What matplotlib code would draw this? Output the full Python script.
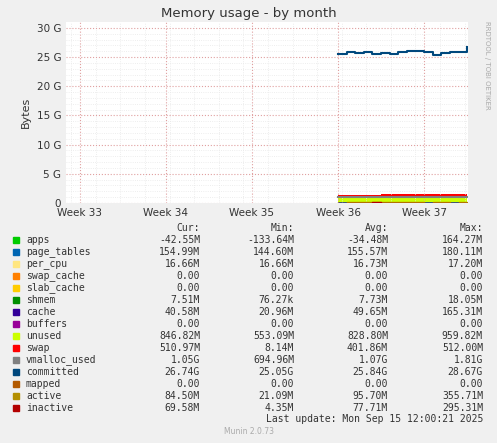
import numpy as np
import matplotlib.pyplot as plt

# time in weeks since Week 33
t = [3.0, 3.1, 3.2, 3.3, 3.4, 3.5, 3.6, 3.7, 3.8, 3.9, 4.0, 4.1, 4.2, 4.3, 4.4, 4.5]

# stacked areas (GB)
apps = [0.00, -0.03, -0.05, -0.02, -0.04, -0.03, -0.06, -0.04, -0.02, -0.05, -0.03, -0.04, -0.03, -0.05, -0.04, -0.04]
page_tables = [0.15, 0.16, 0.15, 0.16, 0.15, 0.16, 0.16, 0.15, 0.16, 0.16, 0.15, 0.16, 0.15, 0.16, 0.15, 0.15]
per_cpu = [0.017] * 16
shmem = [0.008] * 16
cache = [0.05, 0.06, 0.04, 0.05, 0.05, 0.06, 0.05, 0.04, 0.05, 0.05, 0.04, 0.05, 0.05, 0.04, 0.05, 0.04]
unused = [0.80, 0.82, 0.85, 0.80, 0.78, 0.83, 0.86, 0.84, 0.82, 0.85, 0.83, 0.84, 0.82, 0.83, 0.85, 0.85]
swap = [0.30, 0.32, 0.35, 0.38, 0.40, 0.42, 0.45, 0.46, 0.48, 0.49, 0.50, 0.50, 0.51, 0.51, 0.51, 0.51]
# lines (GB)
vmalloc_used = [1.05, 1.06, 1.07, 1.08, 1.07, 1.06, 1.08, 1.07, 1.06, 1.07, 1.08, 1.07, 1.06, 1.07, 1.06, 1.05]
committed = [25.6, 25.8, 25.7, 25.9, 25.6, 25.7, 25.5, 25.9, 26.1, 26.0, 25.8, 25.3, 25.7, 25.9, 25.8, 26.7]
active = [0.08, 0.09, 0.10, 0.09, 0.11, 0.10, 0.09, 0.10, 0.11, 0.09, 0.08, 0.10, 0.09, 0.08, 0.09, 0.08]
inactive = [0.07, 0.08, 0.07, 0.08, 0.09, 0.08, 0.07, 0.08, 0.08, 0.07, 0.08, 0.07, 0.08, 0.07, 0.07, 0.07]

week_labels = ['Week 33', 'Week 34', 'Week 35', 'Week 36', 'Week 37']

names = ['apps', 'page_tables', 'per_cpu', 'swap_cache', 'slab_cache', 'shmem', 'cache',
         'buffers', 'unused', 'swap', 'vmalloc_used', 'committed', 'mapped', 'active', 'inactive']
colors = ['#00CC00', '#0066B3', '#FFE680', '#FF8000', '#FFCC00', '#008F00', '#330099',
          '#990099', '#CCFF00', '#FF0000', '#808080', '#00487D', '#B35A00', '#B38F00', '#B30000']
cur = ['-42.55M', '154.99M', '16.66M', '0.00', '0.00', '7.51M', '40.58M', '0.00', '846.82M',
       '510.97M', '1.05G', '26.74G', '0.00', '84.50M', '69.58M']
mins = ['-133.64M', '144.60M', '16.66M', '0.00', '0.00', '76.27k', '20.96M', '0.00', '553.09M',
        '8.14M', '694.96M', '25.05G', '0.00', '21.09M', '4.35M']
avgs = ['-34.48M', '155.57M', '16.73M', '0.00', '0.00', '7.73M', '49.65M', '0.00', '828.80M',
        '401.86M', '1.07G', '25.84G', '0.00', '95.70M', '77.71M']
maxs = ['164.27M', '180.11M', '17.20M', '0.00', '0.00', '18.05M', '165.31M', '0.00', '959.82M',
        '512.00M', '1.81G', '28.67G', '0.00', '355.71M', '295.31M']

W, H = 497, 443
fig = plt.figure(figsize=(W / 100, H / 100), dpi=100, facecolor='#F0F0F0')
ax = fig.add_axes([66 / W, 1 - 203 / H, 402 / W, 181 / H])
ax.set_facecolor('white')

x = np.array(t)
stack = [apps, page_tables, per_cpu, shmem, cache, unused, swap]
scol = ['#00CC00', '#0066B3', '#FFE680', '#008F00', '#330099', '#CCFF00', '#FF0000']
base = np.zeros(len(x))
for s, c in zip(stack, scol):
    top = base + np.array(s)
    ax.fill_between(x, base, top, color=c, step='post', lw=0)
    base = top
ax.step(x, vmalloc_used, where='post', color='#808080', lw=1.5)
ax.step(x, committed, where='post', color='#00487D', lw=1.5)
ax.step(x, active, where='post', color='#B38F00', lw=1)
ax.step(x, inactive, where='post', color='#B30000', lw=1)

ax.set_xlim(-0.16, 4.51)
ax.set_ylim(0, 31)
ax.set_xticks(range(5))
ax.set_xticklabels(week_labels)
ax.set_yticks(range(0, 31, 5))
ax.set_yticklabels(['0'] + ['%d G' % v for v in range(5, 31, 5)])
ax.set_xticks(np.arange(-0.1, 4.5, 0.2857), minor=True)
ax.set_yticks(np.arange(0, 31, 1), minor=True)
ax.grid(True, which='major', color='#E0A0A0', ls=':', lw=0.8)
ax.grid(True, which='minor', color='#E8E8E8', ls=':', lw=0.6)
ax.tick_params(which='both', length=0, labelsize=7.5, colors='#333333')
for sp in ax.spines.values():
    sp.set_visible(False)
ax.set_ylabel('Bytes', fontsize=8, color='#333333')

fig.text(0.5, 1 - 13 / H, 'Memory usage - by month', ha='center', va='center', fontsize=9.5, color='#333333')
fig.text(487 / W, 1 - 65 / H, 'RRDTOOL / TOBI OETIKER', rotation=270, ha='center', va='center',
         fontsize=5, color='#AAAAAA')

mono = 'DejaVu Sans Mono'
fs = 7
for lab, xr in [('Cur:', 200), ('Min:', 294), ('Avg:', 388), ('Max:', 483)]:
    fig.text(xr / W, 1 - 228 / H, lab, ha='right', va='center', family=mono, fontsize=fs, color='#333333')
for i, n in enumerate(names):
    y = 1 - (240 + i * 12) / H
    fig.patches.append(plt.Rectangle((13 / W, y - 3 / H), 6 / W, 6 / H, color=colors[i],
                                     transform=fig.transFigure, figure=fig))
    fig.text(26 / W, y, n, ha='left', va='center', family=mono, fontsize=fs, color='#333333')
    for v, xr in [(cur[i], 200), (mins[i], 294), (avgs[i], 388), (maxs[i], 483)]:
        fig.text(xr / W, y, v, ha='right', va='center', family=mono, fontsize=fs, color='#333333')
fig.text(483 / W, 1 - 419 / H, 'Last update: Mon Sep 15 12:00:21 2025', ha='right', va='center',
         family=mono, fontsize=fs, color='#333333')
fig.text(0.5, 1 - 432 / H, 'Munin 2.0.73', ha='center', va='center', fontsize=5.5, color='#AAAAAA')

fig.savefig('out.png', dpi=100, facecolor=fig.get_facecolor())
